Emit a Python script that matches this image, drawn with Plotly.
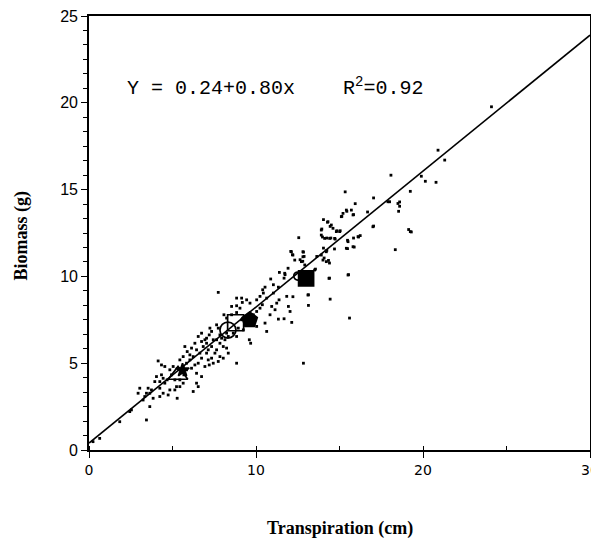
import plotly.graph_objects as go

# scattered individual observations (transpiration cm, biomass g)
dots_x = [24.1, 20.9, 21.3, 18.08, 19.9, 20.14, 20.78, 19.24, 15.34, 17.04, 18.0, 18.6, 18.6, 18.54,
          16.68, 17.04, 19.14, 19.3, 15.94, 15.44, 15.14, 15.84, 14.04, 14.28, 14.44, 14.84, 15.04,
          13.94, 13.98, 14.24, 14.48, 14.74, 16.24, 16.14, 15.84, 15.48, 15.88, 15.48, 12.56, 14.04,
          14.24, 14.7, 14.08, 14.34, 14.4, 13.64, 18.34, 12.08, 12.18, 12.84, 12.88, 12.64, 12.8,
          13.56, 14.4, 15.54, 14.44, 15.6, 13.14, 13.14, 12.84, 11.74, 11.68, 11.4, 10.88, 11.04,
          11.34, 10.54, 10.4, 11.38, 11.24, 11.84, 11.94, 12.04, 11.68, 12.14, 11.34, 10.84, 10.38,
          10.24, 10.04, 9.84, 10.54, 10.64, 10.04, 9.8, 9.6, 9.68, 8.84, 9.44, 9.14, 9.18, 9.64,
          8.84, 9.04, 7.74, 8.08, 8.24, 8.84, 8.54, 7.64, 7.74, 7.24, 7.34, 7.2, 6.94, 6.74, 7.04,
          7.84, 7.94, 8.14, 8.04, 8.24, 8.34, 7.64, 7.54, 7.34, 7.14, 7.2, 6.94, 6.34, 6.14, 6.44,
          5.74, 5.88, 6.04, 5.64, 5.44, 6.64, 6.74, 6.54, 6.34, 6.14, 6.44, 6.74, 6.44, 6.54, 6.24,
          5.84, 5.68, 5.44, 5.24, 5.14, 5.28, 4.84, 4.94, 4.68, 4.54, 4.34, 4.54, 4.14, 4.34, 4.44,
          4.24, 4.44, 4.24, 3.94, 3.74, 3.64, 3.84, 3.64, 3.04, 2.94, 3.44, 3.34, 3.24, 2.54, 2.44,
          1.84, 0.64, 0.24, 8.24, 8.34, 8.64, 8.84, 8.94, 9.24, 9.44, 9.14, 9.34, 10.04, 10.24,
          10.44, 11.04, 10.64, 10.94, 11.14, 8.84, 8.54, 7.34, 7.14, 7.04, 6.84, 6.54, 6.74, 7.04,
          7.44, 7.64, 7.84, 8.04, 7.84, 7.74, 7.44, 6.04, 6.24, 5.84, 5.64, 5.04, 5.14, 5.44, 5.64,
          4.84, 4.74, 3.44, 3.54, 4.04, 4.24, 15.41, 15.71, 15.21, 15.11, 15.81, 14.31, 14.51,
          14.61, 14.81, 15.01, 13.91, 13.91, 14.11, 14.41, 14.71, 16.11, 15.51, 17.0, 17.9, 18.5,
          19.24, 15.41, 15.81, 14.21, 13.91, 14.01, 14.21, 12.12, 12.21, 12.32, 12.81, 12.81,
          12.72, 12.92, 13.51, 11.92, 11.72, 14.37, 15.51, 13.11, 12.21]
dots_y = [19.77, 17.27, 16.7, 15.83, 15.77, 15.48, 15.42, 14.9, 14.87, 14.52, 14.3, 14.29, 14.04, 13.75,
          13.71, 12.9, 12.7, 12.56, 14.19, 13.75, 13.46, 13.56, 13.27, 13.12, 12.88, 12.63, 12.63,
          12.73, 12.27, 12.21, 12.21, 12.15, 12.35, 12.27, 12.21, 12.08, 11.69, 11.6, 12.23, 11.63,
          11.5, 11.58, 11.06, 10.92, 10.77, 11.15, 11.54, 11.44, 11.25, 11.4, 11.15, 10.96, 10.87,
          10.42, 9.9, 10.1, 8.69, 7.6, 8.94, 8.33, 5.0, 10.1, 9.9, 10.23, 9.85, 9.52,
          9.38, 9.38, 9.23, 8.65, 8.46, 8.85, 8.27, 7.98, 7.56, 7.35, 7.54, 7.79, 8.37,
          8.17, 7.98, 7.79, 7.31, 6.83, 7.12, 7.4, 6.35, 6.15, 5.0, 8.65, 8.75, 8.5, 8.46,
          8.31, 8.17, 9.08, 7.79, 7.6, 7.92, 7.79, 7.21, 7.02, 7.02, 6.83, 6.63, 6.35, 6.25, 6.15,
          6.63, 6.44, 6.35, 5.96, 5.87, 5.58, 5.77, 5.58, 5.29, 5.19, 4.9, 4.81, 6.15, 5.87, 5.77,
          5.96, 5.67, 5.48, 5.38, 5.19, 5.58, 5.29, 5.0, 4.9, 4.71, 4.42, 4.23, 3.85, 3.65, 3.37,
          4.62, 4.33, 4.04, 3.65, 3.46, 2.98, 4.62, 4.33, 4.04, 3.85, 4.9, 4.81, 5.13, 4.33, 4.13,
          3.56, 3.27, 3.08, 3.94, 3.46, 3.27, 2.98, 2.5, 3.56, 3.27, 1.73, 3.08, 2.88, 2.31, 2.21,
          1.63, 0.67, 0.48, 6.73, 6.54, 6.73, 6.54, 7.02, 6.92, 7.21, 7.5, 7.69, 8.65, 8.85,
          9.04, 9.04, 8.75, 8.27, 8.08, 8.75, 8.27, 5.96, 5.77, 5.58, 5.96, 6.54, 6.73, 6.44,
          6.35, 6.35, 6.15, 5.29, 5.38, 5.1, 5.0, 5.19, 5.38, 5.0, 4.81, 4.81, 4.04, 3.65, 3.85,
          3.46, 3.17, 3.27, 3.56, 4.23, 3.94, 13.82, 13.82, 13.63, 13.44, 13.54, 13.15, 12.96,
          12.77, 12.58, 12.58, 12.67, 12.38, 12.19, 12.19, 12.19, 12.29, 12.0, 12.86, 14.3, 14.2,
          12.58, 11.62, 11.71, 11.42, 11.23, 10.94, 10.85, 11.42, 11.23, 10.94, 11.42, 11.13,
          10.85, 10.66, 10.37, 10.47, 10.18, 9.89, 10.08, 8.93, 8.83]

# treatment means (large symbols)
mean_x = [5.33, 5.6, 8.32, 8.78, 9.62, 13.0, 12.5]
mean_y = [4.32, 4.6, 6.91, 7.33, 7.49, 9.89, 10.02]
mean_symbols = ["triangle-up-open", "star", "circle-open", "square-open", "pentagon", "square", "circle-open"]
mean_sizes = [17, 10, 16, 16, 16, 15, 8]

# fitted regression line end points
line_x = [0, 30]
line_y = [0.4, 23.9]

fig = go.Figure()
fig.add_trace(go.Scatter(x=line_x, y=line_y, mode="lines",
                         line=dict(color="black", width=1.6), showlegend=False, hoverinfo="skip"))
fig.add_trace(go.Scatter(x=dots_x, y=dots_y, mode="markers",
                         marker=dict(symbol="square", size=2.8, color="black", opacity=1, line=dict(width=0)),
                         showlegend=False))
fig.add_trace(go.Scatter(x=mean_x, y=mean_y, mode="markers",
                         marker=dict(symbol=mean_symbols, size=mean_sizes, color="black", opacity=1,
                                     line=dict(color="black", width=1.7)),
                         showlegend=False))

fig.add_annotation(x=2.14, y=20.9, xref="x", yref="y", xanchor="left", yanchor="middle",
                   text="Y = 0.24+0.80x    R<sup>2</sup>=0.92", showarrow=False,
                   font=dict(family="Liberation Mono", size=20, color="black"))
fig.add_annotation(x=0.501, y=-0.18, xref="paper", yref="paper", xanchor="center", yanchor="middle",
                   text="<b>Transpiration (cm)</b>", showarrow=False,
                   font=dict(family="Liberation Serif", size=18, color="black"))
fig.add_annotation(x=-0.135, y=0.495, xref="paper", yref="paper", xanchor="center", yanchor="middle",
                   text="<b>Biomass (g)</b>", showarrow=False, textangle=-90,
                   font=dict(family="Liberation Serif", size=18, color="black"))

fig.update_layout(
    width=591, height=538,
    margin=dict(l=81, r=9, t=8, b=96),
    paper_bgcolor="white", plot_bgcolor="white",
    showlegend=False,
    xaxis=dict(range=[0, 30], tick0=0, dtick=10, showgrid=False, zeroline=False, automargin=False,
               showline=True, linecolor="black", linewidth=1.6, mirror=True,
               ticks="outside", ticklen=6, tickwidth=1.3, tickcolor="black", ticklabeloverflow="allow",
               tickfont=dict(family="DejaVu Sans", size=14, color="black"),
               minor=dict(dtick=5, ticks="inside", ticklen=4, tickwidth=1.2, tickcolor="black", showgrid=False)),
    yaxis=dict(range=[0, 25], tick0=0, dtick=5, showgrid=False, zeroline=False, automargin=False,
               showline=True, linecolor="black", linewidth=1.6, mirror=True,
               ticks="outside", ticklen=6, tickwidth=1.3, tickcolor="black", ticklabeloverflow="allow",
               tickfont=dict(family="Liberation Sans", size=16, color="black"),
               minor=dict(dtick=5/6, ticks="outside", ticklen=4, tickwidth=1.2, tickcolor="black", showgrid=False)),
)

fig.write_html("out.html")
